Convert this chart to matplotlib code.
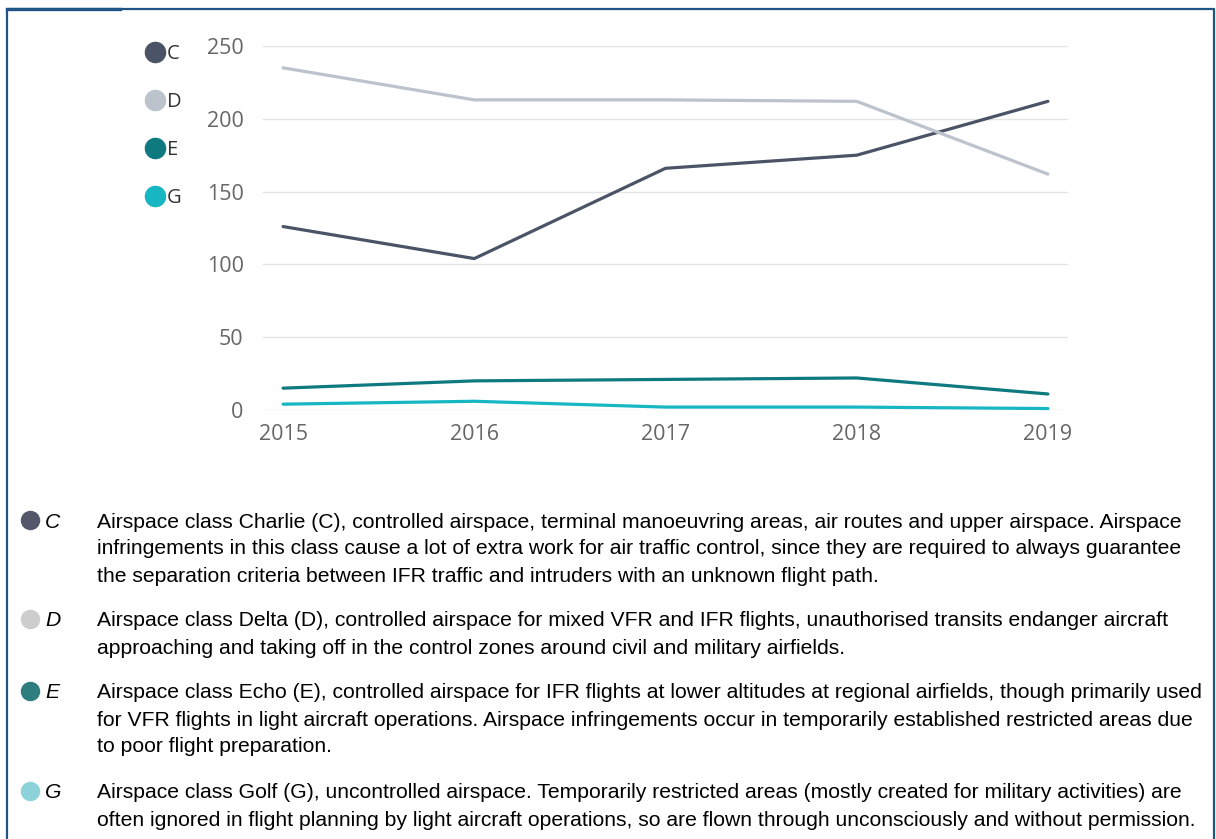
import matplotlib
matplotlib.use("Agg")
import matplotlib.pyplot as plt
from matplotlib.lines import Line2D

# data
years = [2015, 2016, 2017, 2018, 2019]
classes = ["C", "D", "E", "G"]
class_c = [126, 104, 166, 175, 212]
class_d = [235, 213, 213, 212, 162]
class_e = [15, 20, 21, 22, 11]
class_g = [4, 6, 2, 2, 1]
y_ticks = [0, 50, 100, 150, 200, 250]

line_colors = ["#4b5467", "#bcc3cc", "#0e7a80", "#16b6c3"]
bullet_colors = ["#54566a", "#cdcdcd", "#2e7d7f", "#8ed2d9"]

descriptions = [
    ["Airspace class Charlie (C), controlled airspace, terminal manoeuvring areas, air routes and upper airspace. Airspace",
     "infringements in this class cause a lot of extra work for air traffic control, since they are required to always guarantee",
     "the separation criteria between IFR traffic and intruders with an unknown flight path."],
    ["Airspace class Delta (D), controlled airspace for mixed VFR and IFR flights, unauthorised transits endanger aircraft",
     "approaching and taking off in the control zones around civil and military airfields."],
    ["Airspace class Echo (E), controlled airspace for IFR flights at lower altitudes at regional airfields, though primarily used",
     "for VFR flights in light aircraft operations. Airspace infringements occur in temporarily established restricted areas due",
     "to poor flight preparation."],
    ["Airspace class Golf (G), uncontrolled airspace. Temporarily restricted areas (mostly created for military activities) are",
     "often ignored in flight planning by light aircraft operations, so are flown through unconsciously and without permission."],
]

W, H = 1216, 839
fig = plt.figure(figsize=(W / 100, H / 100), dpi=100)

def fx(px):
    return px / W

def fy(py):
    return 1 - py / H

# chart area
ax = fig.add_axes([fx(263), fy(410), fx(1068) - fx(263), fy(46) - fy(410)])
series = [class_c, class_d, class_e, class_g]
for vals, col in zip(series, line_colors):
    ax.plot(years, vals, color=col, lw=2.3, solid_capstyle="round", zorder=3, clip_on=False)

ax.set_xlim(2014.895, 2019.105)
ax.set_ylim(0, 250)
ax.set_yticks(y_ticks)
ax.set_xticks(years)
ax.grid(axis="y", color="#e4e4e4", lw=1)
ax.set_axisbelow(True)
for s in ax.spines.values():
    s.set_visible(False)
ax.tick_params(length=0, labelsize=15.5, labelcolor="#666666")
ax.tick_params(axis="y", pad=14)
ax.tick_params(axis="x", pad=10)
for lab in ax.get_xticklabels() + ax.get_yticklabels():
    lab.set_fontfamily("Open Sans")

# legend on the left
for i, (name, col) in enumerate(zip(classes, line_colors)):
    ypos = 52 + i * 48
    fig.add_artist(Line2D([fx(155)], [fy(ypos)], marker="o", markersize=14.5,
                          color=col, transform=fig.transFigure))
    fig.text(fx(167), fy(ypos + 2), name, fontsize=14.5, color="#333333",
             family="Open Sans", va="center", ha="left")

# description block
row_tops = [522, 621, 693, 793]
for name, col, lines, top in zip(classes, bullet_colors, descriptions, row_tops):
    fig.add_artist(Line2D([fx(30)], [fy(top - 2)], marker="o", markersize=13,
                          color=col, transform=fig.transFigure))
    fig.text(fx(45), fy(top), name, fontsize=15.2, style="italic",
             family="Liberation Sans", va="center", ha="left")
    for j, line in enumerate(lines):
        fig.text(fx(97), fy(top + j * 27), line, fontsize=15.2,
                 family="Liberation Sans", va="center", ha="left")

# frame
frame = "#1f5585"
fig.add_artist(Line2D([fx(7), fx(7), fx(1214), fx(1214)], [fy(839), fy(9), fy(9), fy(839)],
                      color=frame, lw=1.6, transform=fig.transFigure))
fig.add_artist(Line2D([fx(7), fx(120)], [fy(9), fy(9)], color=frame, lw=2.4,
                      transform=fig.transFigure))

fig.savefig("out.png", dpi=100)
